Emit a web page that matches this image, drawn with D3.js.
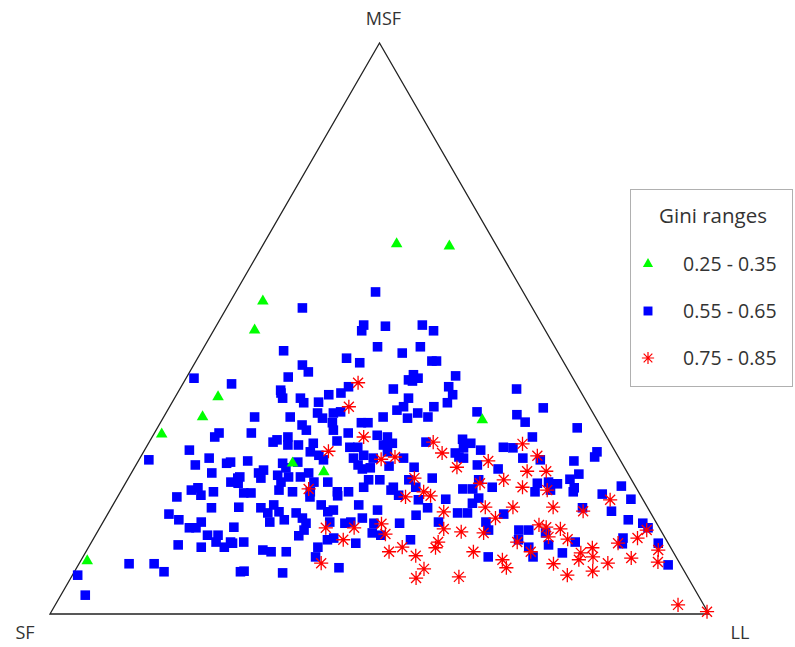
<!DOCTYPE html>
<html>
<head>
<meta charset="utf-8">
<script src="https://cdn.jsdelivr.net/npm/d3@7"></script>
<style>
  body { margin: 0; background: #fff; }
  svg text { font-family: "Open Sans", "Liberation Sans", sans-serif; fill: #333; }
</style>
</head>
<body>
<div id="chart"></div>
<script>
// ternary points as [MSF %, LL %]; SF = 100 - MSF - LL
var lowGini = [
  [64.8, 20.2], [64.4, 28.4], [54.8, 4.9], [49.7, 6.2], [38.0, 6.5], [34.5, 5.9],
  [31.5, 1.2], [34.0, 48.6], [24.9, 29.1], [26.4, 23.6], [9.3, 1.0]
];

var midGini = [
  [41.3, 1.2], [40.3, 7.4], [56.4, 21.2], [53.6, 11.5], [50.6, 22.3], [49.6, 22.5],
  [50.4, 25.7], [46.8, 26.3], [45.7, 30.6], [46.1, 12.4], [44.8, 22.6], [44.0, 25.0],
  [43.6, 16.5], [42.4, 18.0], [41.5, 15.4], [39.2, 15.4], [39.8, 25.4], [39.4, 32.4],
  [41.0, 33.9], [50.6, 31.2], [49.6, 33.4], [46.8, 32.8], [44.3, 35.8], [44.3, 36.5],
  [41.9, 34.2], [41.3, 35.2], [40.8, 34.6], [41.7, 40.7], [39.8, 40.6], [39.4, 51.1],
  [32.6, 63.7], [28.4, 68.8], [27.5, 68.9], [26.8, 66.1], [24.5, 68.0], [23.6, 67.1],
  [22.4, 75.5], [22.1, 68.5], [36.1, 56.8], [34.9, 53.4], [33.6, 55.3], [35.4, 47.1],
  [38.4, 41.9], [37.0, 41.8], [36.3, 40.1], [37.8, 35.5], [36.3, 35.5], [34.3, 37.1],
  [35.2, 38.2], [34.5, 40.1], [31.0, 57.7], [29.2, 54.2], [29.1, 55.7], [27.3, 58.1],
  [30.1, 42.0], [30.6, 47.3], [29.9, 48.9], [29.1, 48.2], [28.2, 47.4], [28.7, 51.0],
  [27.5, 48.3], [27.3, 49.1], [26.1, 51.8], [25.4, 55.3], [25.7, 42.4], [23.8, 46.1],
  [22.2, 44.4], [23.5, 53.3], [22.2, 56.0], [21.9, 51.7], [21.9, 53.2], [22.9, 62.5],
  [23.1, 64.1], [22.8, 65.6], [21.7, 65.1], [21.4, 62.9], [27.0, 60.9], [31.7, 9.8],
  [31.0, 9.5], [28.7, 6.8], [27.0, 1.5], [26.1, 9.0], [27.3, 10.5], [26.4, 13.6],
  [24.7, 12.2], [23.1, 15.9], [23.8, 16.6], [21.7, 10.6], [22.1, 11.4], [20.8, 12.5],
  [21.4, 14.1], [20.5, 9.0], [38.7, 15.7], [37.8, 16.4], [37.8, 19.1], [37.0, 20.0],
  [37.1, 22.2], [38.4, 23.1], [38.7, 24.8], [35.2, 23.0], [34.3, 24.2], [35.2, 25.4],
  [35.4, 26.4], [34.5, 13.8], [34.5, 19.2], [33.1, 21.7], [32.2, 22.8], [33.5, 26.1],
  [32.2, 26.9], [33.5, 30.5], [33.5, 31.5], [34.5, 33.3], [35.7, 34.8], [31.7, 14.7],
  [30.5, 19.2], [31.0, 20.6], [29.6, 22.9], [29.6, 21.3], [30.1, 18.8], [29.9, 25.0],
  [30.3, 28.4], [31.7, 29.4], [29.2, 30.9], [29.2, 32.1], [31.3, 34.0], [31.0, 35.7],
  [29.6, 35.8], [29.9, 37.0], [28.4, 25.3], [27.8, 26.9], [27.0, 28.0], [27.3, 32.4],
  [27.8, 33.7], [27.3, 35.4], [26.1, 33.7], [25.4, 34.7], [25.6, 35.8], [25.9, 38.5],
  [26.8, 16.6], [26.6, 14.1], [26.4, 22.1], [25.6, 23.0], [26.6, 24.3], [25.2, 19.8],
  [24.7, 19.3], [23.8, 20.1], [24.3, 22.4], [24.0, 24.2], [24.0, 26.0], [24.7, 26.9],
  [23.1, 28.5], [23.1, 30.6], [23.1, 23.5], [21.7, 23.9], [21.4, 26.1], [21.4, 28.8],
  [21.4, 32.9], [21.4, 34.6], [24.0, 16.8], [22.9, 17.1], [22.2, 41.0], [23.5, 42.7],
  [27.3, 40.0], [28.4, 37.0], [23.5, 36.6], [23.5, 38.3], [22.2, 36.5], [21.4, 68.7],
  [21.0, 73.3], [20.1, 78.1], [18.0, 76.2], [18.6, 71.5], [16.5, 79.5], [15.9, 82.0],
  [15.1, 83.2], [13.3, 80.3], [12.3, 80.7], [12.6, 73.4], [10.7, 72.4], [12.4, 86.1],
  [8.6, 89.5], [18.6, 15.2], [17.5, 9.3], [16.5, 11.3], [15.1, 13.6], [15.1, 14.6],
  [16.1, 14.9], [15.2, 20.3], [18.7, 19.3], [12.1, 13.4], [11.7, 17.1], [13.8, 17.0],
  [13.8, 18.6], [12.6, 18.9], [11.7, 20.6], [12.4, 21.5], [8.8, 7.6], [8.8, 11.4],
  [7.4, 13.6], [6.8, 0.8], [3.3, 3.7], [7.4, 25.2], [21.2, 18.8], [21.2, 19.9],
  [20.5, 29.2], [18.6, 22.7], [17.7, 24.2], [19.1, 24.4], [17.9, 25.8], [16.1, 25.3],
  [17.7, 28.5], [16.8, 29.9], [16.5, 27.3], [15.9, 30.9], [14.7, 31.2], [13.7, 30.9],
  [19.1, 31.6], [17.9, 33.2], [18.2, 33.9], [20.7, 33.3], [19.1, 37.3], [16.8, 39.0],
  [15.9, 36.8], [16.1, 37.6], [16.1, 34.4], [13.3, 36.4], [13.0, 35.6], [12.4, 40.2],
  [11.7, 34.8], [10.0, 35.3], [18.2, 40.6], [15.9, 41.2], [14.2, 41.8], [13.8, 43.3],
  [15.9, 45.1], [13.0, 48.2], [12.6, 21.1], [12.6, 23.1], [11.2, 26.7], [10.9, 28.1],
  [10.9, 30.4], [7.5, 25.7], [7.2, 31.7], [8.1, 39.8], [21.7, 40.9], [20.8, 42.5],
  [20.0, 45.9], [18.6, 48.0], [20.1, 50.0], [17.3, 46.9], [16.1, 50.9], [17.7, 53.0],
  [17.7, 54.5], [19.4, 54.4], [20.3, 54.9], [16.1, 58.1], [14.7, 59.2], [17.5, 60.1],
  [14.7, 63.8], [14.7, 65.3], [13.0, 64.6], [11.7, 66.8], [10.0, 68.3], [10.0, 61.5],
  [14.2, 68.1], [12.1, 69.6]
];

var highGini = [
  [40.5, 26.5], [36.3, 27.2], [31.0, 32.1], [28.5, 28.0], [27.1, 36.7], [27.5, 38.6],
  [21.9, 28.3], [20.5, 43.7], [30.1, 43.1], [28.2, 45.4], [25.7, 48.9], [26.8, 53.1],
  [29.8, 56.8], [27.7, 60.1], [25.0, 59.9], [25.0, 62.8], [23.8, 43.4], [23.5, 57.1],
  [22.9, 53.8], [22.2, 60.6], [21.4, 46.0], [20.7, 47.4], [21.7, 64.6], [15.1, 34.3],
  [15.1, 38.6], [13.0, 38.0], [8.9, 36.7], [15.8, 42.4], [14.0, 43.9], [10.9, 46.0],
  [11.7, 47.6], [17.9, 50.8], [18.7, 56.7], [16.8, 59.2], [18.7, 60.9], [14.9, 52.3],
  [14.4, 55.2], [14.2, 58.7], [12.6, 52.6], [11.6, 52.7], [10.2, 50.4], [10.9, 58.8],
  [7.9, 52.8], [6.3, 52.4], [6.5, 58.8], [9.5, 63.9], [8.1, 65.2], [12.6, 64.6],
  [10.9, 67.5], [15.6, 66.4], [15.2, 67.7], [13.5, 68.9], [18.7, 67.0], [14.9, 70.0],
  [13.1, 72.0], [8.8, 72.0], [6.8, 75.1], [20.0, 75.0], [18.0, 71.9], [10.7, 75.2],
  [9.5, 75.5], [11.6, 76.5], [10.0, 77.4], [8.9, 80.2], [7.5, 78.6], [12.4, 80.0],
  [9.8, 83.3], [13.3, 82.5], [14.7, 83.2], [11.2, 86.7], [9.1, 87.7], [1.6, 94.5],
  [0.4, 99.5]
];

var cornerLabels = ["SF", "MSF", "LL"];
var legendTitle = "Gini ranges";
var legendLabels = ["0.25 - 0.35", "0.55 - 0.65", "0.75 - 0.85"];

var width = 795;
var height = 647;

var svg = d3.select("#chart")
    .append("svg")
    .attr("width", width)
    .attr("height", height);

// horizontal position = LL + MSF/2, vertical = MSF
var xScale = d3.scaleLinear().domain([0, 100]).range([50, 709]);
var yScale = d3.scaleLinear().domain([0, 100]).range([614, 43]);

function px(d) { return xScale(d[1] + d[0] / 2); }
function py(d) { return yScale(d[0]); }

// triangle frame
svg.append("path")
    .attr("d", d3.line()([[xScale(0), yScale(0)], [xScale(50), yScale(100)], [xScale(100), yScale(0)]]) + "Z")
    .attr("fill", "none")
    .attr("stroke", "#222")
    .attr("stroke-width", 1.3);

svg.append("text").attr("x", xScale(0) - 25).attr("y", yScale(0) + 25)
    .attr("text-anchor", "middle").attr("font-size", "18px").text(cornerLabels[0]);
svg.append("text").attr("x", xScale(50) + 4).attr("y", yScale(100) - 18)
    .attr("text-anchor", "middle").attr("font-size", "18px").text(cornerLabels[1]);
svg.append("text").attr("x", xScale(100) + 31).attr("y", yScale(0) + 25)
    .attr("text-anchor", "middle").attr("font-size", "18px").text(cornerLabels[2]);

// R style pch 8 star: plus + cross
var star = {
    draw: function (context, size) {
        var r = Math.sqrt(size) / 2;
        var q = r * Math.SQRT1_2;
        context.moveTo(-r, 0); context.lineTo(r, 0);
        context.moveTo(0, -r); context.lineTo(0, r);
        context.moveTo(-q, -q); context.lineTo(q, q);
        context.moveTo(-q, q); context.lineTo(q, -q);
    }
};

svg.append("g").selectAll("path")
    .data(midGini)
    .join("path")
    .attr("transform", function (d) { return "translate(" + px(d) + "," + py(d) + ")"; })
    .attr("d", d3.symbol(d3.symbolSquare, 92))
    .attr("fill", "#0000ff");

svg.append("g").selectAll("path")
    .data(lowGini)
    .join("path")
    .attr("transform", function (d) { return "translate(" + px(d) + "," + py(d) + ")"; })
    .attr("d", d3.symbol(d3.symbolTriangle, 58))
    .attr("fill", "#00ff00");

svg.append("g").selectAll("path")
    .data(highGini)
    .join("path")
    .attr("transform", function (d) { return "translate(" + px(d) + "," + py(d) + ")"; })
    .attr("d", d3.symbol(star, 200))
    .attr("fill", "none")
    .attr("stroke", "#ff0000")
    .attr("stroke-width", 1.3);

// legend
var legend = svg.append("g").attr("transform", "translate(630,189)");
legend.append("rect")
    .attr("x", 0.5).attr("y", 0.5)
    .attr("width", 162).attr("height", 197)
    .attr("fill", "#fff")
    .attr("stroke", "#b0b0b0");
legend.append("text")
    .attr("x", 83).attr("y", 34)
    .attr("text-anchor", "middle")
    .attr("font-size", "20.5px")
    .text(legendTitle);

var legendSymbols = [
    { type: d3.symbolTriangle, size: 45, fill: "#00ff00", stroke: "none" },
    { type: d3.symbolSquare, size: 80, fill: "#0000ff", stroke: "none" },
    { type: star, size: 150, fill: "none", stroke: "#ff0000" }
];

legendLabels.forEach(function (label, i) {
    var yy = 75 + i * 47;
    legend.append("path")
        .attr("transform", "translate(18," + yy + ")")
        .attr("d", d3.symbol(legendSymbols[i].type, legendSymbols[i].size))
        .attr("fill", legendSymbols[i].fill)
        .attr("stroke", legendSymbols[i].stroke)
        .attr("stroke-width", 1.2);
    legend.append("text")
        .attr("x", 53).attr("y", yy + 7)
        .attr("font-size", "19.5px")
        .text(label);
});
</script>
</body>
</html>
